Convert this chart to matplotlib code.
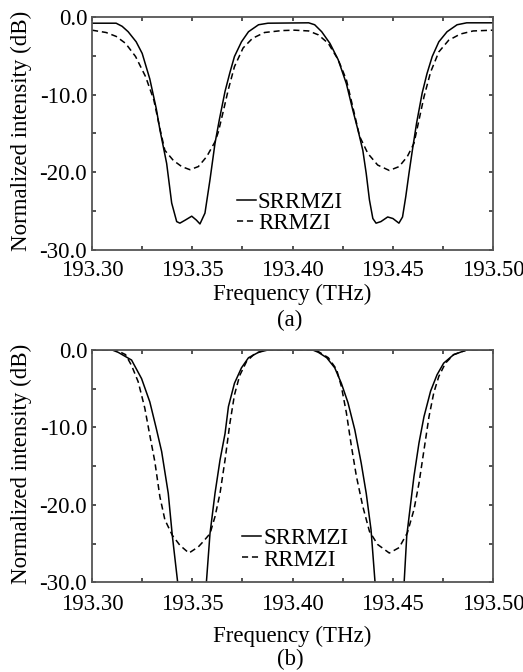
import matplotlib
matplotlib.use("Agg")
import matplotlib.pyplot as plt
from matplotlib.ticker import MultipleLocator, FormatStrFormatter

plt.rcParams['font.family'] = ['Liberation Serif', 'DejaVu Serif']

# ---- panel (a) ----
fa_s = [193.300, 193.312, 193.315, 193.318, 193.322, 193.325, 193.3288, 193.332, 193.3338,
        193.3372, 193.3397, 193.3422, 193.3438, 193.3465, 193.3497, 193.352, 193.3538,
        193.3563, 193.3588, 193.3613, 193.3635, 193.3663, 193.3687,
        193.371, 193.3745, 193.378, 193.383, 193.3877, 193.408, 193.411, 193.4145, 193.4186,
        193.4227, 193.4268, 193.430, 193.4326, 193.435, 193.4367, 193.4383, 193.440,
        193.4416, 193.444, 193.4474, 193.450, 193.453, 193.4548, 193.4564, 193.458,
        193.4597, 193.4618, 193.4646, 193.467, 193.4696, 193.4729, 193.477, 193.482,
        193.4868, 193.500]
da_s = [-0.8, -0.8, -1.2, -1.9, -3.2, -4.7, -8.0, -11.8, -14.5,
        -18.9, -24.0, -26.4, -26.6, -26.2, -25.7, -26.2, -26.7,
        -25.3, -21.0, -16.3, -13.2, -9.6, -7.2,
        -5.1, -3.2, -1.9, -1.0, -0.8, -0.75, -1.0, -1.9, -3.4,
        -5.5, -8.6, -12.0, -14.6, -17.2, -20.2, -23.6, -26.0,
        -26.6, -26.4, -25.8, -26.0, -26.6, -25.8, -23.2, -20.2,
        -17.2, -13.7, -9.8, -7.3, -5.1, -3.2, -1.9, -1.0,
        -0.75, -0.75]

fa_r = [193.300, 193.307, 193.312, 193.3167, 193.3217, 193.3267, 193.3308, 193.334, 193.3363,
        193.3405, 193.3447, 193.3488, 193.353, 193.3572, 193.3613, 193.363, 193.3654,
        193.3679, 193.371, 193.3753, 193.380, 193.386, 193.3947, 193.401, 193.408,
        193.4128, 193.4178, 193.4227, 193.4268, 193.430, 193.4334, 193.4375, 193.4424,
        193.4482, 193.4531, 193.4572, 193.4605, 193.463, 193.4655, 193.4688, 193.4729,
        193.4778, 193.4836, 193.490, 193.500]
da_r = [-1.7, -2.0, -2.5, -3.4, -5.1, -7.7, -10.7, -14.6, -17.2,
        -18.5, -19.3, -19.7, -19.3, -18.0, -16.1, -14.8, -12.2,
        -9.4, -6.4, -4.0, -2.75, -2.0, -1.75, -1.7, -1.8,
        -2.3, -3.4, -5.5, -8.1, -11.6, -15.4, -17.6, -19.1,
        -19.8, -19.3, -18.0, -16.3, -13.3, -10.3, -7.1, -4.5,
        -3.0, -2.2, -1.8, -1.7]

# ---- panel (b) ----
fb_s = [193.300, 193.310, 193.313, 193.3197, 193.3247, 193.3288, 193.332, 193.3347, 193.338,
        193.340, 193.3427, 193.345, 193.350, 193.355, 193.357,
        193.3588, 193.3613, 193.3638, 193.3663, 193.368, 193.371, 193.3745, 193.378,
        193.383, 193.3877, 193.410, 193.4128, 193.417, 193.421, 193.4243, 193.4276,
        193.431, 193.4342, 193.4367, 193.4391, 193.4411, 193.443, 193.448, 193.454,
        193.4556, 193.4569, 193.4589, 193.4605, 193.463, 193.4655, 193.4688, 193.472,
        193.4753, 193.4803, 193.4868, 193.500]
db_s = [0.0, 0.0, -0.3, -1.3, -3.7, -6.7, -10.1, -13.1, -18.5,
        -23.9, -30.0, -38.0, -50.0, -38.0, -30.0,
        -23.7, -18.5, -14.2, -10.8, -7.3, -4.3, -2.3, -1.0,
        -0.3, 0.0, 0.0, -0.3, -1.0, -2.3, -4.3, -6.8,
        -10.3, -14.6, -18.5, -23.2, -30.0, -36.0, -50.0, -36.0,
        -30.0, -24.0, -19.7, -16.3, -12.0, -8.6, -5.3, -3.2,
        -1.7, -0.6, 0.0, 0.0]

fb_r = [193.300, 193.312, 193.3167, 193.3197, 193.323, 193.3263, 193.3288, 193.3313, 193.3338,
        193.3363, 193.340, 193.3438, 193.3483, 193.353, 193.3555, 193.3588,
        193.3613, 193.3638, 193.3663, 193.3687, 193.371, 193.3736, 193.377, 193.381,
        193.386, 193.410, 193.4128, 193.4178, 193.4219, 193.4243, 193.4268, 193.4293,
        193.4318, 193.435, 193.4383, 193.4424, 193.4482, 193.4531, 193.4572, 193.4605,
        193.463, 193.4655, 193.468, 193.4704, 193.4729, 193.4762, 193.4803, 193.4868,
        193.500]
db_r = [0.0, 0.0, -0.6, -2.0, -4.1, -7.5, -11.0, -14.4, -18.9,
        -21.9, -23.9, -25.2, -26.2, -25.4, -24.7, -23.7,
        -21.5, -18.5, -14.2, -9.5, -5.8, -3.3, -1.5, -0.5,
        0.0, 0.0, -0.2, -1.0, -2.5, -4.7, -8.1, -12.4,
        -16.3, -20.2, -23.4, -25.1, -26.2, -25.5, -23.6, -20.6,
        -17.2, -12.9, -8.6, -5.5, -3.4, -1.7, -0.6, 0.0,
        0.0]

names = ["SRRMZI", "RRMZI"]
xticks_lab = [193.30, 193.35, 193.40, 193.45, 193.50]

FS = 16.5

fig = plt.figure(figsize=(5.23, 6.72), dpi=100)
ax1 = fig.add_axes([0.176, 0.6287, 0.767, 0.346])
ax2 = fig.add_axes([0.176, 0.1332, 0.767, 0.346])

# (axes, x_s, y_s, x_r, y_r, xtick pad, xlabel y, legend anchor)
panels = [(ax1, fa_s, da_s, fa_r, da_r, 7.5, -0.147, (0.362, 0.158)),
          (ax2, fb_s, db_s, fb_r, db_r, 8.5, -0.185, (0.375, 0.142))]

for ax, fs, ds, fr, dr, xpad, xlab_y, leg_pos in panels:
    ax.plot(fs, ds, color="black", lw=1.1, label=names[0])
    ax.plot(fr, dr, color="black", lw=1.1, dashes=(4, 2.5), label=names[1])
    ax.set_xlim(193.30, 193.50)
    ax.set_ylim(-30, 0)
    ax.set_xticks(xticks_lab)
    ax.xaxis.set_major_formatter(FormatStrFormatter('%.2f'))
    ax.xaxis.set_minor_locator(MultipleLocator(0.025))
    ax.yaxis.set_major_locator(MultipleLocator(10))
    ax.yaxis.set_minor_locator(MultipleLocator(5))
    ax.yaxis.set_major_formatter(FormatStrFormatter('%.1f'))
    ax.tick_params(which='both', direction='in', top=True, right=True,
                   length=3, width=1.2, color='#333333', labelsize=FS)
    ax.tick_params(axis='x', pad=xpad)
    ax.tick_params(axis='y', pad=3.5)
    for sp in ax.spines.values():
        sp.set_linewidth(1.3)
        sp.set_color('#555555')
    ax.set_ylabel("Normalized intensity (dB)", fontsize=FS)
    ax.yaxis.set_label_coords(-0.15, 0.51)
    ax.set_xlabel("Frequency (THz)", fontsize=FS, va='top')
    ax.xaxis.set_label_coords(0.5, xlab_y)
    ax.legend(loc='center left', bbox_to_anchor=leg_pos, frameon=False,
              fontsize=FS, handlelength=0.8, handletextpad=0.1,
              labelspacing=0.0, borderpad=0, borderaxespad=0)

fig.text(0.553, 1 - 320 / 672, "(a)", ha='center', va='center', fontsize=FS)
fig.text(0.556, 1 - 659 / 672, "(b)", ha='center', va='center', fontsize=FS)

fig.savefig("out.png", dpi=100)
